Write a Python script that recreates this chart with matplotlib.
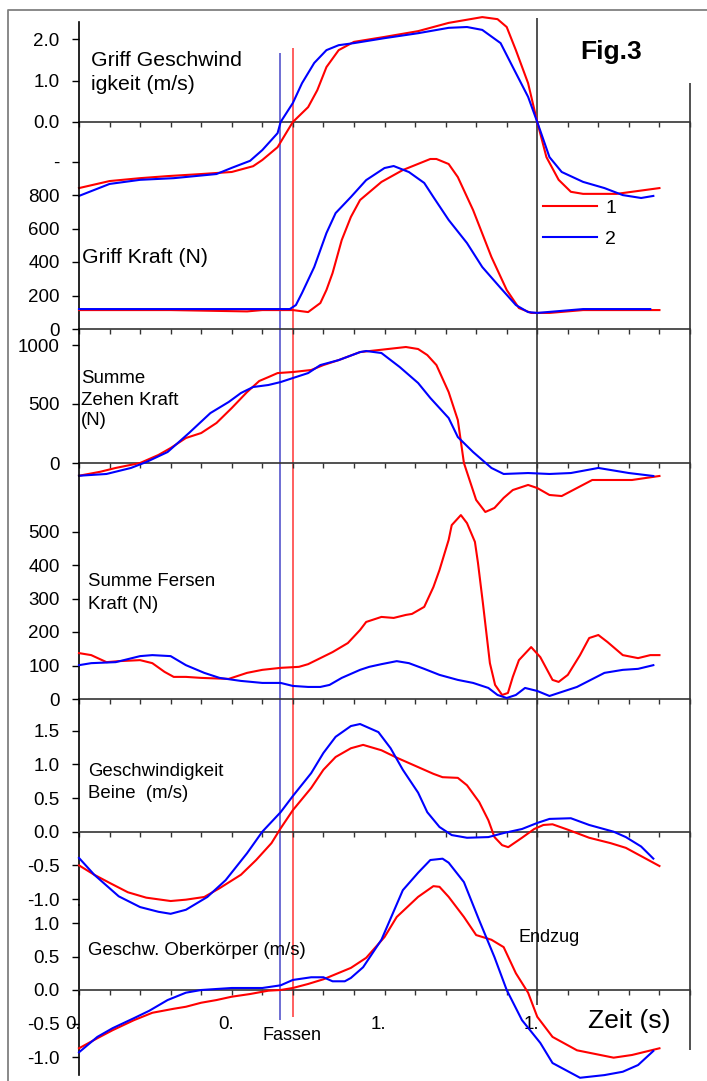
import matplotlib
matplotlib.use('Agg')
import matplotlib.pyplot as plt
import matplotlib.transforms as mtrans
from matplotlib.lines import Line2D
import numpy as np

plt.rcParams['font.family'] = ['Liberation Sans', 'DejaVu Sans']

# --- Griff Geschwindigkeit (m/s) ---
t1_r = [0, 0.10, 0.20, 0.29, 0.40, 0.50, 0.57, 0.60, 0.65, 0.69, 0.70, 0.75, 0.78, 0.81, 0.85, 0.90,
        1.00, 1.11, 1.21, 1.32, 1.37, 1.40, 1.43, 1.47, 1.50, 1.53, 1.57, 1.61, 1.65, 1.76, 1.90]
v1_r = [-1.60, -1.43, -1.36, -1.31, -1.26, -1.21, -1.07, -0.92, -0.61, -0.12, 0.0, 0.36, 0.77, 1.33, 1.74, 1.94,
        2.06, 2.20, 2.40, 2.54, 2.49, 2.30, 1.74, 0.94, 0.0, -0.85, -1.40, -1.69, -1.74, -1.74, -1.60]
t1_b = [0, 0.10, 0.20, 0.31, 0.45, 0.50, 0.56, 0.60, 0.65, 0.66, 0.70, 0.73, 0.77, 0.81, 0.85, 0.90,
        1.00, 1.11, 1.21, 1.27, 1.32, 1.38, 1.42, 1.47, 1.50, 1.54, 1.58, 1.65, 1.72, 1.78, 1.84, 1.88]
v1_b = [-1.79, -1.50, -1.40, -1.36, -1.26, -1.11, -0.94, -0.68, -0.27, 0.0, 0.46, 0.94, 1.43, 1.74, 1.86, 1.91,
        2.03, 2.15, 2.28, 2.30, 2.23, 1.91, 1.33, 0.61, 0.0, -0.85, -1.21, -1.45, -1.60, -1.77, -1.84, -1.79]

# --- Griff Kraft (N) ---
t2_r = [0, 0.30, 0.55, 0.60, 0.70, 0.75, 0.79, 0.81, 0.83, 0.86, 0.89, 0.92, 0.99, 1.06, 1.15, 1.17,
        1.21, 1.24, 1.29, 1.35, 1.40, 1.44, 1.48, 1.54, 1.65, 1.90]
f2_r = [113, 113, 105, 113, 113, 101, 155, 233, 334, 531, 669, 770, 878, 949, 1015, 1015,
        985, 907, 710, 430, 233, 125, 96, 96, 113, 113]
t2_b = [0, 0.40, 0.69, 0.71, 0.73, 0.77, 0.81, 0.84, 0.89, 0.94, 1.00, 1.03, 1.08, 1.13, 1.16, 1.21,
        1.27, 1.32, 1.38, 1.43, 1.47, 1.50, 1.65, 1.87]
f2_b = [119, 119, 119, 143, 215, 370, 573, 692, 788, 889, 961, 973, 937, 872, 788, 651,
        513, 370, 245, 143, 101, 96, 119, 119]

# --- Summe Zehen Kraft (N) ---
t3_r = [0, 0.07, 0.12, 0.20, 0.26, 0.30, 0.35, 0.40, 0.45, 0.50, 0.55, 0.59, 0.62, 0.65, 0.70, 0.76,
        0.80, 0.85, 0.92, 0.98, 1.07, 1.11, 1.14, 1.17, 1.21, 1.24, 1.26, 1.30, 1.33, 1.36, 1.39, 1.42,
        1.47, 1.50, 1.54, 1.58, 1.63, 1.68, 1.81, 1.90]
f3_r = [-108, -74, -42, 0, 68, 127, 212, 254, 339, 466, 601, 695, 728, 762, 771, 788,
        830, 872, 940, 957, 983, 966, 915, 830, 601, 364, 0, -313, -415, -381, -296, -229,
        -186, -212, -271, -280, -212, -144, -144, -110]
t3_b = [0, 0.09, 0.17, 0.22, 0.29, 0.36, 0.43, 0.49, 0.53, 0.57, 0.62, 0.66, 0.70, 0.75, 0.79, 0.85,
        0.92, 0.94, 0.99, 1.05, 1.11, 1.15, 1.21, 1.24, 1.29, 1.35, 1.39, 1.47, 1.54, 1.61, 1.70, 1.80, 1.88]
f3_b = [-108, -93, -42, 8, 93, 254, 423, 517, 593, 644, 661, 686, 720, 762, 830, 872,
        940, 949, 932, 813, 678, 551, 381, 220, 93, -42, -93, -85, -93, -85, -42, -85, -110]

# --- Summe Fersen Kraft (N) ---
t4_r = [0, 0.04, 0.09, 0.13, 0.20, 0.24, 0.28, 0.31, 0.35, 0.40, 0.49, 0.55, 0.60, 0.66, 0.72, 0.75,
        0.79, 0.83, 0.88, 0.92, 0.94, 0.99, 1.03, 1.07, 1.09, 1.13, 1.16, 1.18, 1.21, 1.22, 1.25, 1.27,
        1.296, 1.306, 1.322, 1.345, 1.362, 1.385, 1.404, 1.42, 1.44, 1.48, 1.51, 1.55, 1.57, 1.60, 1.64,
        1.67, 1.70, 1.73, 1.78, 1.83, 1.87, 1.90]
f4_r = [137, 131, 110, 113, 116, 107, 81, 66, 66, 63, 60, 78, 87, 93, 96, 104,
        122, 140, 167, 206, 230, 245, 242, 251, 254, 275, 334, 385, 475, 519, 549, 525,
        469, 406, 287, 107, 42, 12, 18, 66, 116, 155, 125, 57, 51, 72, 131,
        182, 191, 170, 131, 122, 131, 131]
t4_b = [0, 0.04, 0.12, 0.20, 0.24, 0.30, 0.35, 0.41, 0.46, 0.53, 0.60, 0.66, 0.70, 0.75, 0.79, 0.82,
        0.86, 0.92, 0.95, 0.99, 1.04, 1.08, 1.13, 1.18, 1.24, 1.29, 1.34, 1.37, 1.40, 1.43, 1.46, 1.50,
        1.54, 1.57, 1.63, 1.72, 1.78, 1.83, 1.88]
f4_b = [101, 107, 110, 128, 131, 128, 101, 78, 63, 54, 48, 48, 39, 36, 36, 42,
        63, 87, 96, 104, 113, 107, 90, 72, 57, 48, 33, 12, 3, 12, 33, 24,
        9, 18, 36, 78, 87, 90, 101]

# --- Geschwindigkeit Beine (m/s) ---
t5_r = [0, 0.05, 0.10, 0.16, 0.22, 0.30, 0.35, 0.41, 0.46, 0.53, 0.58, 0.63, 0.66, 0.70, 0.76, 0.80,
        0.84, 0.89, 0.93, 0.99, 1.04, 1.11, 1.16, 1.19, 1.24, 1.27, 1.31, 1.34, 1.36, 1.385, 1.405, 1.45,
        1.49, 1.52, 1.55, 1.60, 1.67, 1.74, 1.79, 1.90]
v5_r = [-0.50, -0.64, -0.76, -0.90, -0.98, -1.03, -1.01, -0.97, -0.84, -0.64, -0.42, -0.17, 0.05, 0.32, 0.65, 0.92,
        1.11, 1.24, 1.29, 1.21, 1.10, 0.96, 0.86, 0.81, 0.80, 0.69, 0.44, 0.17, -0.08, -0.20, -0.23, -0.09,
        0.04, 0.10, 0.11, 0.03, -0.09, -0.17, -0.24, -0.51]
t5_b = [0, 0.05, 0.10, 0.13, 0.20, 0.26, 0.30, 0.35, 0.42, 0.48, 0.55, 0.60, 0.66, 0.70, 0.76, 0.80,
        0.84, 0.89, 0.92, 0.98, 1.02, 1.06, 1.11, 1.14, 1.18, 1.22, 1.27, 1.34, 1.39, 1.45, 1.50, 1.54,
        1.61, 1.67, 1.75, 1.79, 1.84, 1.88]
v5_b = [-0.39, -0.64, -0.84, -0.96, -1.12, -1.19, -1.22, -1.16, -0.97, -0.72, -0.32, 0.0, 0.29, 0.53, 0.87, 1.17,
        1.41, 1.57, 1.60, 1.48, 1.24, 0.92, 0.58, 0.29, 0.07, -0.05, -0.09, -0.08, -0.02, 0.04, 0.13, 0.19,
        0.20, 0.10, 0.0, -0.08, -0.22, -0.40]

# --- Geschw. Oberkoerper (m/s) ---
t6_r = [0, 0.06, 0.11, 0.18, 0.24, 0.31, 0.35, 0.40, 0.45, 0.50, 0.56, 0.62, 0.66, 0.70, 0.75, 0.80,
        0.89, 0.94, 1.00, 1.04, 1.11, 1.16, 1.18, 1.21, 1.26, 1.30, 1.35, 1.39, 1.43, 1.47, 1.50, 1.55,
        1.63, 1.75, 1.81, 1.90]
v6_r = [-0.87, -0.72, -0.60, -0.45, -0.34, -0.28, -0.25, -0.19, -0.15, -0.10, -0.06, -0.01, 0.0, 0.03, 0.09, 0.16,
        0.33, 0.48, 0.79, 1.09, 1.39, 1.55, 1.54, 1.39, 1.09, 0.82, 0.75, 0.64, 0.25, -0.04, -0.40, -0.70,
        -0.90, -1.01, -0.97, -0.87]
t6_b = [0, 0.06, 0.11, 0.18, 0.23, 0.29, 0.35, 0.40, 0.50, 0.60, 0.66, 0.70, 0.76, 0.80, 0.83, 0.87,
        0.89, 0.93, 0.99, 1.06, 1.11, 1.15, 1.19, 1.21, 1.26, 1.31, 1.36, 1.40, 1.45, 1.51, 1.55, 1.64,
        1.72, 1.78, 1.83, 1.88]
v6_b = [-0.93, -0.70, -0.57, -0.42, -0.31, -0.15, -0.04, 0.0, 0.03, 0.03, 0.07, 0.15, 0.19, 0.19, 0.13, 0.13,
        0.18, 0.34, 0.75, 1.49, 1.75, 1.94, 1.96, 1.90, 1.61, 1.04, 0.49, 0.0, -0.45, -0.79, -1.09, -1.31,
        -1.27, -1.22, -1.12, -0.91]

# event times (s)
fassen_blue = 0.658
fassen_red = 0.70
endzug = 1.5
t_end = 2.0

W, H = 707, 1081
X0, X1 = 79, 690          # pixel columns of t=0 and t=2
RED, BLUE = '#ff0000', '#0000ff'

fig = plt.figure(figsize=(W / 100, H / 100), dpi=100)


def fx(x):
    return x / W


def fy(y):
    return 1 - y / H


# overlay: time on x, pixel rows on y (for the event lines)
ov = fig.add_axes([0, 0, 1, 1])
ov.set_xlim(-X0 / (X1 - X0) * 2, (W - X0) / (X1 - X0) * 2)
ov.set_ylim(H, 0)
ov.axis('off')
ov.vlines(fassen_blue, 53, 1020, color='#5555cc', lw=1.2)
ov.vlines(fassen_red, 48, 1017, color='#ff4444', lw=1.2)
ov.vlines(endzug, 18, 1005, color='#333333', lw=1.2)
ov.vlines(t_end, 83, 1050, color='#333333', lw=1.2)

fig.add_artist(Line2D([fx(8), fx(8), 1.0], [0.0, fy(10), fy(10)],
                      transform=fig.transFigure, color='#808080', lw=1.3))


def panel(top, bottom, zero, per_unit, ticks, labels):
    ax = fig.add_axes([fx(X0), fy(bottom), fx(X1) - fx(X0), (bottom - top) / H])
    ax.set_xlim(0, 2)
    ax.set_ylim((zero - bottom) / per_unit, (zero - top) / per_unit)
    ax.patch.set_alpha(0)
    ax.spines['top'].set_visible(False)
    ax.spines['right'].set_visible(False)
    ax.spines['bottom'].set_position(('data', 0))
    ax.spines['bottom'].set_color('#333333')
    ax.spines['bottom'].set_linewidth(1.2)
    ax.spines['left'].set_linewidth(1.2)
    ax.set_xticks([0, 0.5, 1.0, 1.5, 2.0])
    ax.set_xticks(np.arange(0, 2.01, 0.1), minor=True)
    ax.tick_params(axis='x', which='both', direction='out', length=3.6, width=1,
                   color='#333333', labelbottom=False)
    ax.set_yticks(ticks)
    ax.set_yticklabels(labels)
    ax.tick_params(axis='y', direction='out', length=5, width=1, labelsize=13.5, pad=9)
    return ax


ax1 = panel(22, 122, 122, 41.3, [0, 1, 2], ['0.0', '1.0', '2.0'])
ax2 = panel(122, 329, 329, 33.5 / 200, [0, 200, 400, 600, 800, 1000],
            ['0', '200', '400', '600', '800', '-'])
ax3 = panel(329, 463, 463, 59 / 500, [0, 500, 1000], ['0', '500', '1000'])
ax4 = panel(463, 699, 699, 0.335, [0, 100, 200, 300, 400, 500],
            ['0', '100', '200', '300', '400', '500'])
ax5 = panel(699, 905, 831.7, 67.3, [-1.0, -0.5, 0, 0.5, 1.0, 1.5],
            ['-1.0', '-0.5', '0.0', '0.5', '1.0', '1.5'])
ax6 = panel(905, 1075, 990, 67, [-1.0, -0.5, 0, 0.5, 1.0],
            ['-1.0', '-0.5', '0.0', '0.5', '1.0'])

series = [(ax1, t1_r, v1_r, t1_b, v1_b), (ax2, t2_r, f2_r, t2_b, f2_b),
          (ax3, t3_r, f3_r, t3_b, f3_b), (ax4, t4_r, f4_r, t4_b, f4_b),
          (ax5, t5_r, v5_r, t5_b, v5_b), (ax6, t6_r, v6_r, t6_b, v6_b)]
handles = None
for ax, tr, yr, tb, yb in series:
    lr, = ax.plot(tr, yr, color=RED, lw=1.5, clip_on=False, zorder=3)
    lb, = ax.plot(tb, yb, color=BLUE, lw=1.5, clip_on=False, zorder=3)
    if handles is None:
        handles = [lr, lb]

ax6.tick_params(axis='x', which='major', labelbottom=True, labelsize=13.5, pad=15)
ax6.set_xticklabels(['0.', '0.', '1.', '1.', ''])
shift = mtrans.ScaledTranslation(-6 / 100, 0, fig.dpi_scale_trans)
for lbl in ax6.get_xticklabels():
    lbl.set_transform(lbl.get_transform() + shift)

ax2.legend(handles=handles, labels=['1', '2'], loc='upper left',
           bbox_to_anchor=(fx(543), fy(199)), bbox_transform=fig.transFigure,
           frameon=False, fontsize=14, handlelength=2.8, handletextpad=0.4,
           labelspacing=0.7, borderpad=0, borderaxespad=0)

texts = [
    ("Griff Geschwind", 91, 66.5, 15.3),
    ("igkeit (m/s)", 91, 90, 15.3),
    ("Griff Kraft (N)", 82, 263, 15.3),
    ("Summe", 81, 383, 13.4),
    ("Zehen Kraft", 81, 405, 13.4),
    ("(N)", 81, 425, 13.4),
    ("Summe Fersen", 88, 586.5, 13.4),
    ("Kraft (N)", 88, 609, 13.4),
    ("Geschwindigkeit", 88, 776, 13.4),
    ("Beine  (m/s)", 88, 797.5, 13.4),
    ("Geschw. Oberkörper (m/s)", 88, 955, 13.4),
    ("Fassen", 262, 1040.5, 13),
    ("Endzug", 519, 941.5, 13),
    ("Zeit (s)", 588, 1028, 19),
]
for s, x, y, size in texts:
    fig.text(fx(x), fy(y), s, fontsize=size, ha='left', va='baseline')
fig.text(fx(580), fy(59.5), "Fig.3", fontsize=19, fontweight='bold', ha='left', va='baseline')

fig.savefig('out.png', dpi=100)
